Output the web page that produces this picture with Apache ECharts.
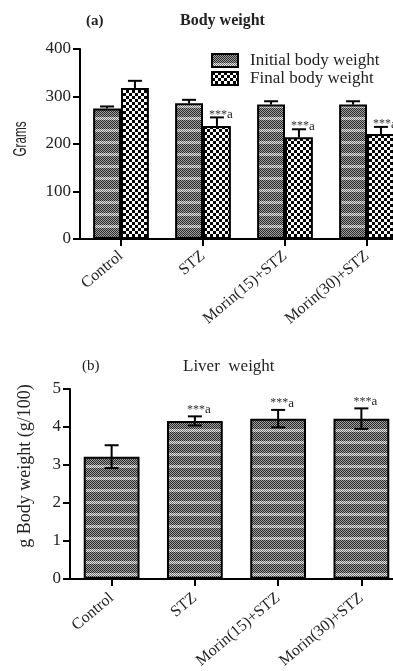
<!DOCTYPE html>
<html><head><meta charset="utf-8">
<script src="https://cdn.jsdelivr.net/npm/echarts@6/dist/echarts.min.js"></script>
<style>html,body{margin:0;padding:0;background:#fff;overflow:hidden}#c{width:420px;height:671px}</style>
</head><body><div id="c"></div>
<script>
const categories = ['Control', 'STZ', 'Morin(15)+STZ', 'Morin(30)+STZ'];
const initialBW = [275, 286, 283, 283];
const initialErr = [4, 7, 7, 7];
const finalBW = [318, 238, 214, 221];
const finalErr = [15, 18, 17, 15];
const sigFinal = ['', '***a', '***a', '***a'];
const liverW = [3.22, 4.16, 4.22, 4.22];
const liverErr = [0.3, 0.12, 0.23, 0.27];
const sigLiver = ['', '***a', '***a', '***a'];
const yTicksTop = [0, 100, 200, 300, 400];
const yTicksBottom = [0, 1, 2, 3, 4, 5];

function makeInitialPattern() {
  const c = document.createElement('canvas'); c.width = 2; c.height = 12;
  const g = c.getContext('2d');
  for (let y = 0; y < 12; y++) for (let x = 0; x < 2; x++) {
    const light = y >= 9;
    const on = (x + y) % 2 === 0;
    g.fillStyle = light ? (on ? '#777' : '#e0e0e0') : (on ? '#2a2a2a' : '#a0a0a0');
    g.fillRect(x, y, 1, 1);
  }
  return c;
}
function makeFinalPattern() {
  const c = document.createElement('canvas'); c.width = 6; c.height = 6;
  const g = c.getContext('2d');
  g.fillStyle = '#fff'; g.fillRect(0, 0, 6, 6);
  g.fillStyle = '#000'; g.fillRect(0, 0, 3, 3); g.fillRect(3, 3, 3, 3);
  return c;
}
const patInitial = { image: makeInitialPattern(), repeat: 'repeat' };
const patFinal = { image: makeFinalPattern(), repeat: 'repeat' };

const serif = 'Liberation Serif, Times New Roman, serif';

function errRender(offFrac, upperOnly) {
  return function (params, api) {
    const i = api.value(0), v = api.value(1), e = api.value(2);
    const band = api.size([1, 0])[0];
    const off = band * offFrac;
    const t = api.coord([i, v + e]);
    const m = api.coord([i, v]);
    const b = api.coord([i, v - e]);
    const x = t[0] + off;
    const cw = 7;
    const st = { stroke: '#000', lineWidth: 2 };
    const lowY = upperOnly ? m[1] : b[1];
    const children = [
      { type: 'line', shape: { x1: x, y1: t[1], x2: x, y2: lowY }, style: st },
      { type: 'line', shape: { x1: x - cw, y1: t[1], x2: x + cw, y2: t[1] }, style: st }
    ];
    if (!upperOnly) children.push({ type: 'line', shape: { x1: x - cw, y1: b[1], x2: x + cw, y2: b[1] }, style: st });
    return { type: 'group', children: children };
  };
}
function sigRender(offFrac, dx, dy, labels) {
  return function (params, api) {
    const i = api.value(0), v = api.value(1), e = api.value(2);
    const band = api.size([1, 0])[0];
    const t = api.coord([i, v + e]);
    const s = labels[params.dataIndex];
    if (!s) return null;
    return {
      type: 'text',
      style: {
        x: t[0] + band * offFrac + dx, y: t[1] + dy,
        text: '{s|' + s.slice(0, 3) + '}{a|' + s.slice(3) + '}', align: 'center', verticalAlign: 'bottom',
        rich: {
          s: { fontFamily: serif, fontSize: 12, fill: '#333', verticalAlign: 'top' },
          a: { fontFamily: serif, fontSize: 13, fill: '#222' }
        }
      }
    };
  };
}

const axisLine = { show: true, lineStyle: { color: '#000', width: 2 } };
const axisTick = { show: true, length: 7, lineStyle: { color: '#000', width: 2 } };
const yLabel = { fontFamily: serif, fontSize: 17, color: '#222', margin: 9 };

const chart = echarts.init(document.getElementById('c'), null, { renderer: 'canvas' });
const option = {
  animation: false,
  backgroundColor: '#fff',
  title: [
    { text: '(a)', left: 86, top: 14, padding: 0, textStyle: { fontFamily: serif, fontSize: 15, fontWeight: 'bold', color: '#222' } },
    { text: 'Body weight', left: 180, top: 13, padding: 0, textStyle: { fontFamily: serif, fontSize: 16, fontWeight: 'bold', color: '#222' } },
    { text: '(b)', left: 82, top: 359, padding: 0, textStyle: { fontFamily: serif, fontSize: 15, fontWeight: 'normal', color: '#222' } },
    { text: 'Liver  weight', left: 183, top: 358, padding: 0, textStyle: { fontFamily: serif, fontSize: 17, fontWeight: 'normal', color: '#222' } }
  ],
  legend: {
    data: ['Initial body weight', 'Final body weight'],
    orient: 'vertical', left: 211, top: 52, padding: 0, itemWidth: 26, itemHeight: 13, itemGap: 1,
    textStyle: { fontFamily: serif, fontSize: 17, color: '#222', padding: [0, 0, 0, 7] },
    icon: 'rect'
  },
  graphic: [
    { type: 'text', x: 21, y: 139, rotation: Math.PI / 2, scaleX: 0.65,
      style: { text: 'Grams', fontFamily: 'Liberation Sans, Arial, sans-serif', fontSize: 18, fill: '#222', align: 'center', verticalAlign: 'middle' } },
    { type: 'text', x: 25, y: 466, rotation: Math.PI / 2,
      style: { text: 'g Body weight (g/100)', fontFamily: serif, fontSize: 18, fill: '#222', align: 'center', verticalAlign: 'middle' } }
  ],
  grid: [
    { left: 80, top: 49, width: 328, height: 190 },
    { left: 70, top: 389, width: 333, height: 191 }
  ],
  xAxis: [
    { type: 'category', gridIndex: 0, data: categories, axisLine: axisLine,
      axisTick: Object.assign({ alignWithLabel: true }, axisTick),
      axisLabel: { rotate: 40, margin: 15, fontFamily: serif, fontSize: 16, color: '#222' } },
    { type: 'category', gridIndex: 1, data: categories, axisLine: axisLine,
      axisTick: Object.assign({ alignWithLabel: true }, axisTick),
      axisLabel: { rotate: 40, margin: 17, fontFamily: serif, fontSize: 16, color: '#222' } }
  ],
  yAxis: [
    { type: 'value', gridIndex: 0, min: yTicksTop[0], max: yTicksTop[yTicksTop.length - 1], interval: 100,
      axisLine: axisLine, axisTick: axisTick, splitLine: { show: false }, axisLabel: yLabel },
    { type: 'value', gridIndex: 1, min: yTicksBottom[0], max: yTicksBottom[yTicksBottom.length - 1], interval: 1,
      axisLine: axisLine, axisTick: axisTick, splitLine: { show: false }, axisLabel: yLabel }
  ],
  series: [
    { name: 'Initial body weight', type: 'bar', xAxisIndex: 0, yAxisIndex: 0, data: initialBW,
      barGap: '0%', barCategoryGap: '32%',
      itemStyle: { color: patInitial, borderColor: '#000', borderWidth: 2 } },
    { name: 'Final body weight', type: 'bar', xAxisIndex: 0, yAxisIndex: 0, data: finalBW,
      barGap: '0%', barCategoryGap: '32%',
      itemStyle: { color: patFinal, borderColor: '#000', borderWidth: 2 } },
    { type: 'custom', xAxisIndex: 0, yAxisIndex: 0, z: 5,
      data: initialBW.map((v, i) => [i, v, initialErr[i]]),
      renderItem: errRender(-0.17, true) },
    { type: 'custom', xAxisIndex: 0, yAxisIndex: 0, z: 5,
      data: finalBW.map((v, i) => [i, v, finalErr[i]]),
      renderItem: errRender(0.17, true) },
    { type: 'custom', xAxisIndex: 0, yAxisIndex: 0, z: 6,
      data: finalBW.map((v, i) => [i, v, finalErr[i]]),
      renderItem: sigRender(0.17, 4, 4, sigFinal) },
    { type: 'bar', xAxisIndex: 1, yAxisIndex: 1, data: liverW, barCategoryGap: '33%',
      itemStyle: { color: patInitial, borderColor: '#000', borderWidth: 2 } },
    { type: 'custom', xAxisIndex: 1, yAxisIndex: 1, z: 5,
      data: liverW.map((v, i) => [i, v, liverErr[i]]),
      renderItem: errRender(0, false) },
    { type: 'custom', xAxisIndex: 1, yAxisIndex: 1, z: 6,
      data: liverW.map((v, i) => [i, v, liverErr[i]]),
      renderItem: sigRender(0, 4, 0, sigLiver) }
  ]
};
chart.setOption(option);
</script>
</body></html>
